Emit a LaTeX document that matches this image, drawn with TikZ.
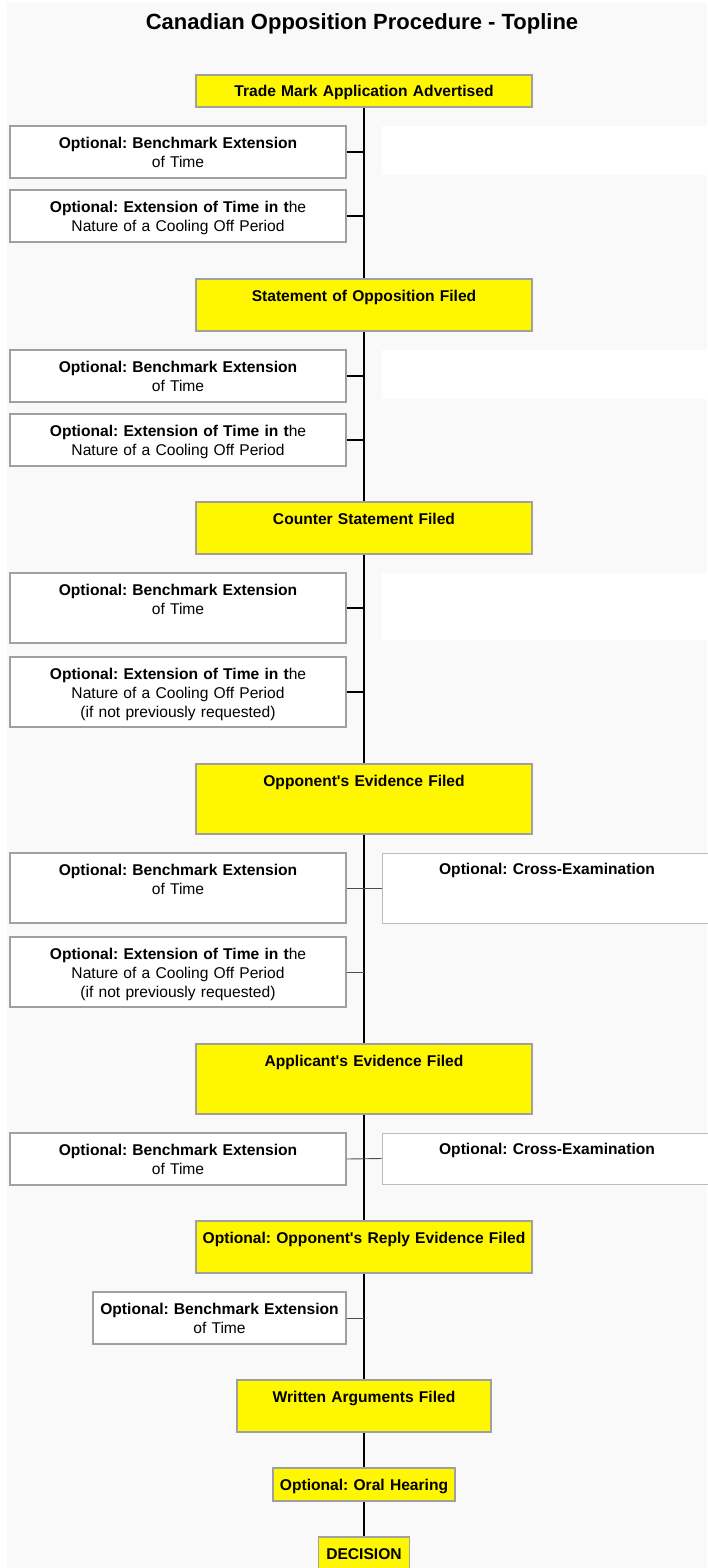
\documentclass[tikz,border=0pt]{standalone}
\usepackage{fontspec}
\setmainfont{Liberation Sans}
\usepackage{tikz}
\usetikzlibrary{positioning}
\definecolor{stageyellow}{HTML}{FFF700}
\definecolor{boxgray}{HTML}{A0A0A0}
\definecolor{lightgray}{HTML}{BDBDBD}
\definecolor{bggray}{HTML}{F9F9F9}
\frenchspacing
\newcommand{\bodyfont}{\fontsize{15.6}{19.2}\selectfont}
\tikzset{
  stage/.style={rectangle,draw=boxgray,fill=stageyellow,line width=1.5pt,
    inner xsep=4pt,inner ysep=0pt,text width=328pt,align=center,
    text height=22.5pt,font=\bodyfont\bfseries},
  opt/.style={rectangle,draw=boxgray,fill=white,line width=1.5pt,
    inner xsep=4pt,inner ysep=0pt,text width=328pt,align=center,
    text height=22.5pt,font=\bodyfont},
  xopt/.style={opt,draw=lightgray,line width=1pt,text width=322pt},
  blank/.style={rectangle,fill=white,draw=none,minimum width=330pt},
  hS/.style={text depth=9.5pt},
  hM/.style={text depth=29.5pt},
  hL/.style={text depth=47.5pt},
  spine/.style={line width=1.4pt,black},
  tie/.style={line width=1.4pt,black},
  thintie/.style={line width=0.9pt,black!70},
}

\begin{document}
\begin{tikzpicture}[x=1pt,y=-1pt]

\fill[white] (0,0) rectangle (707,1568);
\fill[bggray] (7,3) rectangle (707,1568);
\useasboundingbox (0,0) rectangle (707,1568);

\node[font=\fontsize{22}{26}\selectfont\bfseries,anchor=base] (title) at (362,30) {Canadian Opposition Procedure - Topline};

% main stages
\node[stage,hS,text height=22pt,text depth=10pt] (adv) at (364,91) {Trade Mark Application Advertised};
\node[stage,hM] (soo) at (364,305) {Statement of Opposition Filed};
\node[stage,hM] (cs) at (364,528) {Counter Statement Filed};
\node[stage,hL] (oev) at (364,799) {Opponent\textquotesingle s Evidence Filed};
\node[stage,hL] (aev) at (364,1079) {Applicant\textquotesingle s Evidence Filed};
\node[stage,hM] (rep) at (364,1247) {Optional: Opponent\textquotesingle s Reply Evidence Filed};
\node[stage,hM,text width=246pt] (wa) at (364,1406) {Written Arguments Filed};
\node[stage,text depth=10.5pt,text width=174pt] (oral) at (364,1484.5) {Optional: Oral Hearing};
\node[stage,text depth=10.5pt,text width=83pt] (dec) at (364,1553.5) {DECISION};

% empty panels on the right
\node[blank,minimum height=49pt] (wA) at (547,150.5) {};
\node[blank,minimum height=49pt] (wB) at (547,374.5) {};
\node[blank,minimum height=67pt] (wC) at (547,606.5) {};

% optional steps
\node[opt,hM] (bA) at (178,152) {\textbf{Optional: Benchmark Extension}\\of Time};
\node[opt,hM] (eA) at (178,216) {\textbf{Optional: Extension of Time in t}he\\Nature of a Cooling Off Period};
\node[opt,hM] (bB) at (178,376) {\textbf{Optional: Benchmark Extension}\\of Time};
\node[opt,hM] (eB) at (178,440) {\textbf{Optional: Extension of Time in t}he\\Nature of a Cooling Off Period};
\node[opt,hL] (bC) at (178,608) {\textbf{Optional: Benchmark Extension}\\of Time};
\node[opt,hL] (eC) at (178,692) {\textbf{Optional: Extension of Time in t}he\\Nature of a Cooling Off Period\\(if not previously requested)};
\node[opt,hL] (bD) at (178,888) {\textbf{Optional: Benchmark Extension}\\of Time};
\node[opt,hL] (eD) at (178,972) {\textbf{Optional: Extension of Time in t}he\\Nature of a Cooling Off Period\\(if not previously requested)};
\node[opt,hM] (bE) at (178,1159) {\textbf{Optional: Benchmark Extension}\\of Time};
\node[opt,hM,text width=245pt] (bF) at (219.5,1318) {\textbf{Optional: Benchmark Extension}\\of Time};
\node[xopt,text height=21.5pt,text depth=48.5pt] (cD) at (547,888) {\textbf{Optional: Cross-Examination}};
\node[xopt,text height=21.5pt,text depth=29.5pt] (cE) at (547,1158.5) {\textbf{Optional: Cross-Examination}};

% time line
\foreach \a/\b in {adv/soo,soo/cs,cs/oev,oev/aev,aev/rep,rep/wa,wa/oral,oral/dec}
  \draw[spine] (\a.south) -- (\b.north);

\foreach \n/\s in {bA/adv,eA/adv,bB/soo,eB/soo,bC/cs,eC/cs}
  \draw[tie] (\n.east) -- (\n.east -| \s.south);
\draw[thintie] (bD.east) -- (cD.west);
\draw[thintie] (eD.east) -- (eD.east -| oev.south);
\draw[thintie] (bE.east) -- (cE.west);
\draw[thintie] (bF.east) -- (bF.east -| rep.south);

\end{tikzpicture}
\end{document}
